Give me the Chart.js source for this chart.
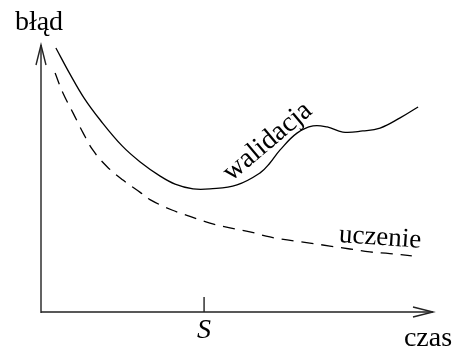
<!DOCTYPE html>
<html>
<head>
<meta charset="utf-8">
<script src="https://cdn.jsdelivr.net/npm/chart.js@4"></script>
<style>
  html, body { margin: 0; padding: 0; background: #fff; }
  #wrap { width: 457px; height: 349px; }
</style>
</head>
<body>
<div id="wrap"><canvas id="errChart" width="457" height="349"></canvas></div>
<script>
// validation error (solid)
var valX = [0.38, 0.74, 1.10, 1.51, 2.07, 2.53, 3.04, 3.42, 3.88, 4.31, 5.00, 5.59, 5.84, 6.10, 6.53, 6.94, 7.30, 7.70, 8.21, 8.65, 9.16, 9.62];
var valY = [9.89, 8.91, 8.01, 7.19, 6.22, 5.62, 5.09, 4.79, 4.61, 4.61, 4.76, 5.21, 5.58, 6.07, 6.70, 6.97, 6.93, 6.74, 6.78, 6.89, 7.27, 7.68];

// training error (dashed)
var trainX = [0.36, 0.56, 0.82, 1.07, 1.33, 1.68, 2.09, 2.53, 2.78, 3.34, 3.80, 4.31, 4.82, 5.33, 5.84, 6.28, 6.86, 7.37, 7.88, 8.39, 8.90, 9.46];
var trainY = [8.95, 8.20, 7.45, 6.72, 6.05, 5.45, 4.94, 4.48, 4.21, 3.82, 3.58, 3.33, 3.15, 3.00, 2.81, 2.70, 2.58, 2.47, 2.36, 2.25, 2.19, 2.10];

// stopping point on the time axis
var stopX = 4.16;

var serif = '"Liberation Serif", "DejaVu Serif", serif';

function pts(xs, ys) {
    return xs.map(function (x, i) { return { x: x, y: ys[i] }; });
}

function arrowHead(c, x, y, dx, dy) {
    // open arrow head, two barbs
    var len = 20, half = 5;
    var px = -dy, py = dx;
    c.beginPath();
    c.moveTo(x - dx * len + px * half, y - dy * len + py * half);
    c.lineTo(x, y);
    c.lineTo(x - dx * len - px * half, y - dy * len - py * half);
    c.stroke();
}

var sketchPlugin = {
    id: 'sketch',
    afterDatasetsDraw: function (chart) {
        var c = chart.ctx;
        var a = chart.chartArea;
        var xs = chart.scales.x, ys = chart.scales.y;
        c.save();
        c.strokeStyle = '#222';
        c.lineWidth = 1.4;
        // axes
        c.beginPath();
        c.moveTo(a.left, a.bottom + 1);
        c.lineTo(a.left, a.top);
        c.moveTo(a.left, a.bottom);
        c.lineTo(a.right, a.bottom);
        c.stroke();
        arrowHead(c, a.left, a.top, 0, -1);
        arrowHead(c, a.right, a.bottom, 1, 0);

        // S tick
        var sx = xs.getPixelForValue(stopX);
        c.beginPath();
        c.moveTo(sx, a.bottom - 15);
        c.lineTo(sx, a.bottom);
        c.stroke();

        c.fillStyle = '#000';
        c.textAlign = 'center';
        c.textBaseline = 'alphabetic';
        c.font = '28px ' + serif;
        c.fillText('błąd', a.left - 2, 30);
        c.fillText('czas', a.right - 5, 346);

        c.font = 'italic 28px ' + serif;
        c.fillText('S', sx, 338);

        // curve labels
        c.font = '28px ' + serif;
        c.save();
        c.translate(xs.getPixelForValue(5.78), ys.getPixelForValue(6.38));
        c.rotate(-40 * Math.PI / 180);
        c.textBaseline = 'middle';
        c.fillText('walidacja', 0, 0);
        c.restore();

        c.save();
        c.font = '27px ' + serif;
        c.translate(xs.getPixelForValue(8.65), ys.getPixelForValue(2.78));
        c.rotate(4 * Math.PI / 180);
        c.textBaseline = 'middle';
        c.fillText('uczenie', 0, 0);
        c.restore();
        c.restore();
    }
};

var ctx = document.getElementById('errChart').getContext('2d');
var errChart = new Chart(ctx, {
    type: 'line',
    data: {
        datasets: [{
            label: 'walidacja',
            data: pts(valX, valY),
            borderColor: '#000',
            borderWidth: 1.3,
            pointRadius: 0,
            tension: 0.4,
            fill: false
        }, {
            label: 'uczenie',
            data: pts(trainX, trainY),
            borderColor: '#000',
            borderWidth: 1.3,
            borderDash: [12, 8],
            pointRadius: 0,
            tension: 0.4,
            fill: false
        }]
    },
    options: {
        responsive: false,
        animation: false,
        maintainAspectRatio: false,
        layout: {
            padding: { left: 41, right: 24, top: 45, bottom: 37 }
        },
        plugins: {
            legend: { display: false },
            tooltip: { enabled: false }
        },
        scales: {
            x: { type: 'linear', display: false, min: 0, max: 10 },
            y: { type: 'linear', display: false, min: 0, max: 10 }
        }
    },
    plugins: [sketchPlugin]
});
</script>
</body>
</html>
